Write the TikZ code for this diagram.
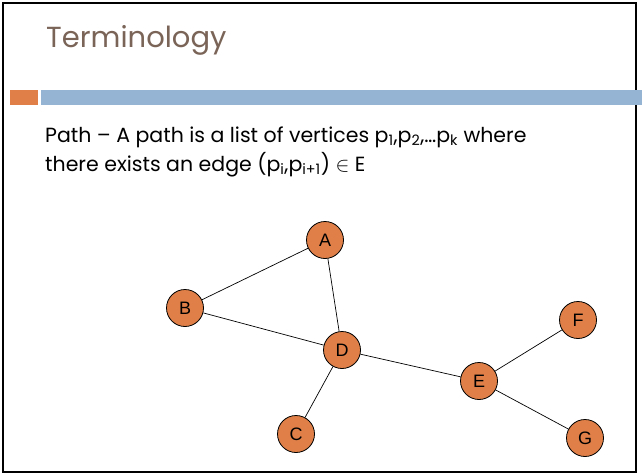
\documentclass[tikz,border=0pt]{standalone}
\usepackage{fontspec}
\setmainfont{Poppins}
\newfontfamily\nodefont{Liberation Sans}
\definecolor{titlegray}{RGB}{122,100,88}
\definecolor{barorange}{RGB}{224,128,72}
\definecolor{barblue}{RGB}{149,180,211}
\definecolor{vertexfill}{RGB}{224,128,72}

\begin{document}
\begin{tikzpicture}[x=1pt, y=-1pt,
  vertex/.style={circle, draw=black, fill=vertexfill, line width=0.8pt,
    minimum size=37pt, inner sep=0pt, font=\nodefont\fontsize{18}{18}\selectfont},
  edge/.style={draw=black, line width=0.7pt},
  bodytext/.style={anchor=base west, inner sep=0pt, font=\fontsize{20.5}{20.5}\selectfont}]
  \useasboundingbox (0,0) rectangle (642,474);
  \fill[white] (0,0) rectangle (642,474);

  % frame and header bars
  \draw[line width=2.5pt] (3,3) rectangle (636,472);
  \fill[barorange] (10,90) rectangle (38,105);
  \fill[barblue] (41,90) rectangle (642,105);

  \node[anchor=base west, inner sep=0pt, text=titlegray, font=\fontsize{29}{29}\selectfont]
    (title) at (46,47) {Terminology};
  \node[bodytext] (line1) at (45,142)
    {Path -- A path is a list of vertices p\textsubscript{1},p\textsubscript{2},\dots p\textsubscript{k} where};
  \node[bodytext] (line2) at (45,171)
    {there exists an edge (p\textsubscript{i},p\textsubscript{i+1}) $\in$ E};

  % vertices
  \node[vertex] (A) at (325,240) {A};
  \node[vertex] (B) at (185,308) {B};
  \node[vertex] (D) at (342,350) {D};
  \node[vertex] (C) at (296,434) {C};
  \node[vertex] (E) at (479,381) {E};
  \node[vertex] (F) at (578,320) {F};
  \node[vertex] (G) at (585,438) {G};

  % edges
  \draw[edge] (A) -- (B);
  \draw[edge] (A) -- (D);
  \draw[edge] (B) -- (D);
  \draw[edge] (D) -- (C);
  \draw[edge] (D) -- (E);
  \draw[edge] (E) -- (F);
  \draw[edge] (E) -- (G);
\end{tikzpicture}
\end{document}
